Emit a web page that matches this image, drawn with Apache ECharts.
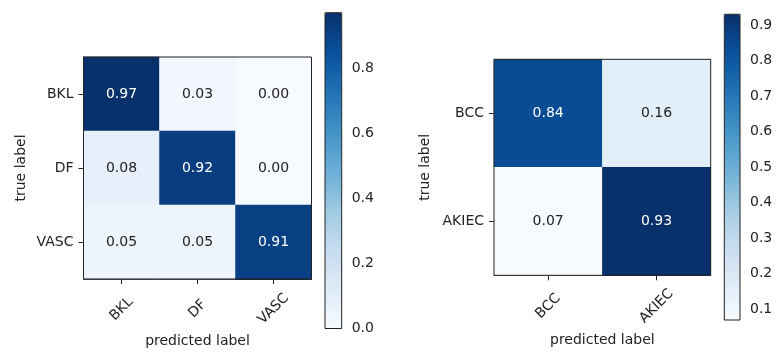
<!DOCTYPE html>
<html>
<head>
<meta charset="utf-8">
<script src="https://cdn.jsdelivr.net/npm/echarts@6/dist/echarts.min.js"></script>
<style>
  html, body { margin: 0; padding: 0; background: #ffffff; }
  #chart { width: 777px; height: 353px; }
</style>
</head>
<body>
<div id="chart"></div>
<script>
// Left confusion matrix (rows = true label, columns = predicted label)
const classesA = ['BKL', 'DF', 'VASC'];
const matrixA = [
  [0.97, 0.03, 0.00],
  [0.08, 0.92, 0.00],
  [0.05, 0.05, 0.91]
];
const colorbarTicksA = [0.0, 0.2, 0.4, 0.6, 0.8];

// Right confusion matrix
const classesB = ['BCC', 'AKIEC'];
const matrixB = [
  [0.84, 0.16],
  [0.07, 0.93]
];
const colorbarTicksB = [0.1, 0.2, 0.3, 0.4, 0.5, 0.6, 0.7, 0.8, 0.9];

// "Blues" sequential colour map
const blues = ['#f7fbff', '#deebf7', '#c6dbef', '#9ecae1', '#6baed6',
               '#4292c6', '#2171b5', '#08519c', '#08306b'];

const FONT = 'DejaVu Sans';
const INK = '#222222';

function cells(matrix) {
  const flat = matrix.flat();
  const hi = Math.max(...flat);
  const out = [];
  matrix.forEach((row, r) => row.forEach((v, c) => {
    out.push({ value: [c, r, v], label: { color: v > hi / 2 ? '#ffffff' : INK } });
  }));
  return out;
}
function range(matrix) {
  const flat = matrix.flat();
  return [Math.min(...flat), Math.max(...flat)];
}

const [minA, maxA] = range(matrixA);
const [minB, maxB] = range(matrixB);

const layout = {
  heatA: { left: 83.5, top: 57, width: 228, height: 228 },
  barA: { left: 325, top: 12.7, width: 16.7, height: 315.8 },
  heatB: { left: 494, top: 59.3, width: 216.7, height: 216 },
  barB: { left: 724.3, top: 14.3, width: 15.7, height: 305.7 }
};

function heatX(gridIndex, data, margin, nameGap) {
  return {
    gridIndex, type: 'category', data, position: 'bottom',
    axisLine: { show: true, lineStyle: { color: INK, width: 1 } },
    axisTick: { show: true, alignWithLabel: true, length: 5, lineStyle: { color: INK } },
    axisLabel: { rotate: 45, align: 'center', verticalAlign: 'middle', margin,
                 fontSize: 14, fontFamily: FONT, color: INK, interval: 0 },
    splitLine: { show: false }, splitArea: { show: false },
    name: 'predicted label', nameLocation: 'middle', nameGap,
    nameTextStyle: { fontSize: 14, fontFamily: FONT, color: INK }
  };
}
function heatY(gridIndex, data, nameGap) {
  return {
    gridIndex, type: 'category', data, inverse: true,
    axisLine: { show: true, lineStyle: { color: INK, width: 1 } },
    axisTick: { show: true, alignWithLabel: true, length: 5, lineStyle: { color: INK } },
    axisLabel: { margin: 10, fontSize: 14, fontFamily: FONT, color: INK, interval: 0 },
    splitLine: { show: false }, splitArea: { show: false },
    name: 'true label', nameLocation: 'middle', nameGap, nameRotate: 90,
    nameTextStyle: { fontSize: 14, fontFamily: FONT, color: INK }
  };
}
function barX(gridIndex) {
  return { gridIndex, type: 'value', show: false, min: 0, max: 1 };
}
function barY(gridIndex, min, max, ticks) {
  return {
    gridIndex, type: 'value', min, max, position: 'right',
    axisLine: { show: false },
    axisTick: { show: true, length: 5, customValues: ticks, lineStyle: { color: INK } },
    axisLabel: { margin: 10, customValues: ticks, fontSize: 14, fontFamily: FONT, color: INK,
                 formatter: v => v.toFixed(1) },
    splitLine: { show: false }
  };
}
function colorbar(seriesIndex, min, max, box) {
  return {
    type: 'continuous', seriesIndex, min, max, calculable: false, realtime: false,
    left: box.left, top: box.top, itemWidth: box.width, itemHeight: box.height,
    padding: 0, text: null, showLabel: false, hoverLink: false,
    inRange: { color: blues }
  };
}
function heatSeries(xAxisIndex, yAxisIndex, data) {
  return {
    type: 'heatmap', xAxisIndex, yAxisIndex, data,
    itemStyle: { borderWidth: 0 },
    label: { show: true, fontSize: 14, fontFamily: FONT, formatter: p => p.value[2].toFixed(2) },
    emphasis: { disabled: true }
  };
}

const gridStyle = { show: true, borderColor: INK, borderWidth: 1,
                    backgroundColor: 'transparent', containLabel: false, z: 10 };

const option = {
  backgroundColor: '#ffffff',
  animation: false,
  grid: [
    Object.assign({}, gridStyle, layout.heatA),
    Object.assign({}, gridStyle, layout.barA),
    Object.assign({}, gridStyle, layout.heatB),
    Object.assign({}, gridStyle, layout.barB)
  ],
  xAxis: [
    heatX(0, classesA, 30, 50),
    barX(1),
    heatX(2, classesB, 31, 57),
    barX(3)
  ],
  yAxis: [
    heatY(0, classesA, 55),
    barY(1, minA, maxA, colorbarTicksA),
    heatY(2, classesB, 62),
    barY(3, minB, maxB, colorbarTicksB)
  ],
  visualMap: [
    colorbar(0, minA, maxA, layout.barA),
    colorbar(1, minB, maxB, layout.barB)
  ],
  series: [
    heatSeries(0, 0, cells(matrixA)),
    heatSeries(2, 2, cells(matrixB))
  ]
};

const chart = echarts.init(document.getElementById('chart'), null, { renderer: 'canvas' });
chart.setOption(option);
</script>
</body>
</html>
